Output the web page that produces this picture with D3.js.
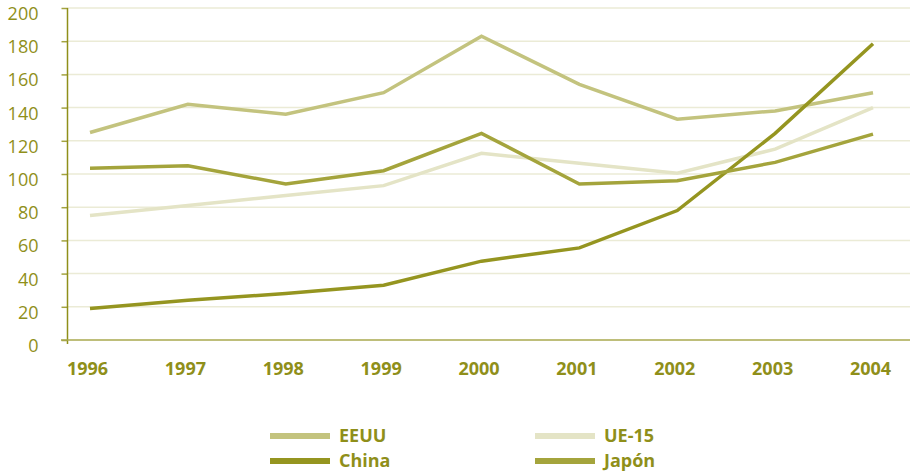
<!DOCTYPE html>
<html>
<head>
<meta charset="utf-8">
<script src="https://cdn.jsdelivr.net/npm/d3@7"></script>
<style>
  body { margin: 0; background: #fff; }
  svg text { font-family: "Open Sans", "Noto Sans", sans-serif; fill: #8f8f1a; }
</style>
</head>
<body>
<svg id="chart" width="910" height="471"></svg>
<script>
// data
var years = ["1996", "1997", "1998", "1999", "2000", "2001", "2002", "2003", "2004"];
var yTicks = [0, 20, 40, 60, 80, 100, 120, 140, 160, 180, 200];
var eeuu = [125, 142, 136, 149, 183, 154, 133, 138, 149];
var ue15 = [75, 81, 87, 93, 112.5, 106.5, 100.5, 115, 140];
var china = [19, 24, 28, 33, 47.5, 55.5, 78, 124.5, 178.5];
var japon = [103.5, 105, 94, 102, 124.5, 94, 96, 107, 124];

var seriesNames = ["EEUU", "UE-15", "China", "Japón"];
var seriesColors = ["#c3c37e", "#e4e4c6", "#959520", "#a4a43c"];
var allSeries = [eeuu, ue15, china, japon];

var svg = d3.select("#chart");

var x = d3.scalePoint()
    .domain(years)
    .range([90, 873]);

var y = d3.scaleLinear()
    .domain([0, 200])
    .range([340, 8]);

// gridlines
svg.append("g")
    .selectAll("line")
    .data(yTicks.filter(function (d) { return d > 0; }))
    .enter()
    .append("line")
    .attr("x1", 67)
    .attr("x2", 910)
    .attr("y1", function (d) { return y(d); })
    .attr("y2", function (d) { return y(d); })
    .style("stroke", "#ebebd6")
    .style("stroke-width", 1.5);

// y axis (labels sit a little below their ticks, as in the original)
var yAxis = svg.append("g")
    .attr("transform", "translate(67.5,0)")
    .call(d3.axisLeft(y).tickValues(yTicks).tickSize(6).tickPadding(23));
yAxis.select(".domain").remove();
yAxis.selectAll(".tick line").style("stroke", "#a3a340").style("stroke-width", 1.5);
yAxis.selectAll("text").style("font-size", "18px").attr("dy", "0.36em").attr("y", 5);

svg.append("line")
    .attr("x1", 67.5).attr("x2", 67.5)
    .attr("y1", y(200)).attr("y2", 344)
    .style("stroke", "#8f8f1a").style("stroke-width", 1.5);

// x axis
var xAxis = svg.append("g")
    .attr("transform", "translate(0," + y(0) + ")")
    .call(d3.axisBottom(x).tickSize(0).tickPadding(22));
xAxis.select(".domain").remove();
xAxis.selectAll("text").style("font-size", "18px").style("font-weight", "bold").attr("dx", "-3px");

svg.append("line")
    .attr("x1", 61).attr("x2", 910)
    .attr("y1", y(0)).attr("y2", y(0))
    .style("stroke", "#a8a84e").style("stroke-width", 1.5);

// lines
var line = d3.line()
    .x(function (d, i) { return x(years[i]); })
    .y(function (d) { return y(d); });

svg.append("g")
    .selectAll("path")
    .data(allSeries)
    .enter()
    .append("path")
    .attr("d", line)
    .style("fill", "none")
    .style("stroke", function (d, i) { return seriesColors[i]; })
    .style("stroke-width", 3.5);

// legend
var legendPos = [[270, 436], [535, 436], [270, 461], [535, 461]];
var legend = svg.append("g")
    .selectAll("g")
    .data(seriesNames)
    .enter()
    .append("g")
    .attr("transform", function (d, i) { return "translate(" + legendPos[i][0] + "," + legendPos[i][1] + ")"; });

legend.append("line")
    .attr("x1", 0).attr("x2", 60)
    .style("stroke", function (d, i) { return seriesColors[i]; })
    .style("stroke-width", 6);

legend.append("text")
    .attr("x", 69)
    .attr("dy", "0.36em")
    .style("font-size", "18px")
    .style("font-weight", "bold")
    .text(function (d) { return d; });
</script>
</body>
</html>
